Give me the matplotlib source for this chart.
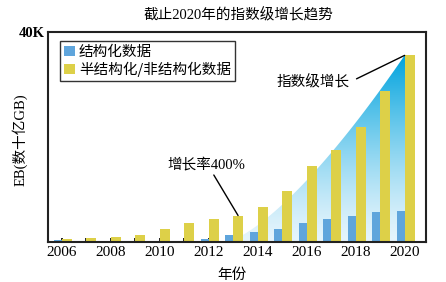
import numpy as np
import matplotlib
matplotlib.use("Agg")
import matplotlib.pyplot as plt
from matplotlib.patches import Polygon

plt.rcParams['font.family'] = ['Liberation Serif', 'Noto Sans CJK SC', 'DejaVu Sans']

# data (EB)
years = list(range(2006, 2021))
structured = [400, 250, 300, 300, 300, 300, 600, 1400, 1900, 2500, 3700, 4400, 5100, 5700, 6000]
unstructured = [600, 770, 950, 1400, 2500, 3600, 4400, 5100, 6700, 9800, 14500, 17500, 21900, 28800, 35600]
tick_years = [2006, 2008, 2010, 2012, 2014, 2016, 2018, 2020]
legend_labels = ["结构化数据", "半结构化/非结构化数据"]

BLUE = "#5fa5dc"
YELLOW = "#ddd048"
CJK = ['Noto Sans CJK SC', 'DejaVu Sans']

fig = plt.figure(figsize=(4.46, 2.82), dpi=100)
ax = fig.add_axes([0.107, 0.1408, 0.848, 0.7447])

x = np.arange(len(years))

# decorative gradient wedge ending at the top of the last yellow bar
x0 = 6.67          # where the wedge leaves the axis
xend = x[-1]
ytop = unstructured[-1]
xs = np.linspace(x0, xend, 200)
ys = ytop * ((xs - x0) / (xend - x0)) ** 1.4
xr = xend + 0.41
poly = np.column_stack([np.r_[xs, xr, xr], np.r_[ys, ytop, 0]])
clip = Polygon(poly, closed=True, facecolor="none", edgecolor="none")
ax.add_patch(clip)
t = np.linspace(1, 0, 200) ** 1.3
low = np.array([0.90, 0.96, 0.99])
high = np.array([0.0, 0.64, 0.87])
img = low[None, :] * (1 - t[:, None]) + high[None, :] * t[:, None]
img = np.repeat(img[:, None, :], 10, axis=1)
im = ax.imshow(img, extent=[x0, xr, 0, ytop], aspect="auto", zorder=1)
im.set_clip_path(clip)

b1 = ax.bar(x, structured, width=-0.33, align="edge", color=BLUE, zorder=2)
b2 = ax.bar(x, unstructured, width=0.41, align="edge", color=YELLOW, zorder=2)

ax.set_xlim(-0.571, 14.87)
ax.set_ylim(0, 40000)
ax.set_xticks(x, minor=True)
ax.set_xticks([years.index(y) for y in tick_years])
ax.set_xticklabels([str(y) for y in tick_years], fontsize=11)
ax.set_yticks([40000])
ax.set_yticklabels(["40K"], fontsize=10.5, fontweight="bold")
ax.tick_params(axis="x", which="both", direction="in", length=3, width=1.2, pad=3)
ax.tick_params(axis="y", length=0, pad=2)
for s in ax.spines.values():
    s.set_linewidth(1.5)
    s.set_color("#222222")

ax.set_ylabel("EB(数十亿GB)", fontsize=10.5)
ax.yaxis.set_label_coords(-0.052, 0.487)
ax.set_xlabel("年份", fontsize=10.5, family=CJK)
ax.xaxis.set_label_coords(0.487, -0.122)

fig.text(0.534, 0.945, "截止2020年的指数级增长趋势", ha="center", va="center", fontsize=10.5)

leg = ax.legend([b1, b2], legend_labels, loc="upper left", bbox_to_anchor=(0.0325, 0.9586),
                borderaxespad=0, fancybox=False, framealpha=1, edgecolor="#333333",
                handlelength=0.7, handleheight=0.7, handletextpad=0.3, labelspacing=0.15,
                borderpad=0.3, prop={"family": CJK, "size": 10.5})
leg.get_frame().set_linewidth(1.0)

ax.annotate("指数级增长", xy=(14, unstructured[-1]), xytext=(11.77, 30530),
            ha="right", va="center", fontsize=10.5, family=CJK, zorder=5,
            arrowprops=dict(arrowstyle="-", color="black", lw=1, shrinkA=3, shrinkB=0,
                            relpos=(1, 0.5)))
ax.annotate("增长率400%", xy=(7.2, unstructured[7]), xytext=(5.89, 14900),
            ha="center", va="center", fontsize=10.5, zorder=5,
            arrowprops=dict(arrowstyle="-", color="black", lw=1, shrinkA=1, shrinkB=0,
                            relpos=(0.57, 0)))

fig.savefig("out.png", dpi=100)
